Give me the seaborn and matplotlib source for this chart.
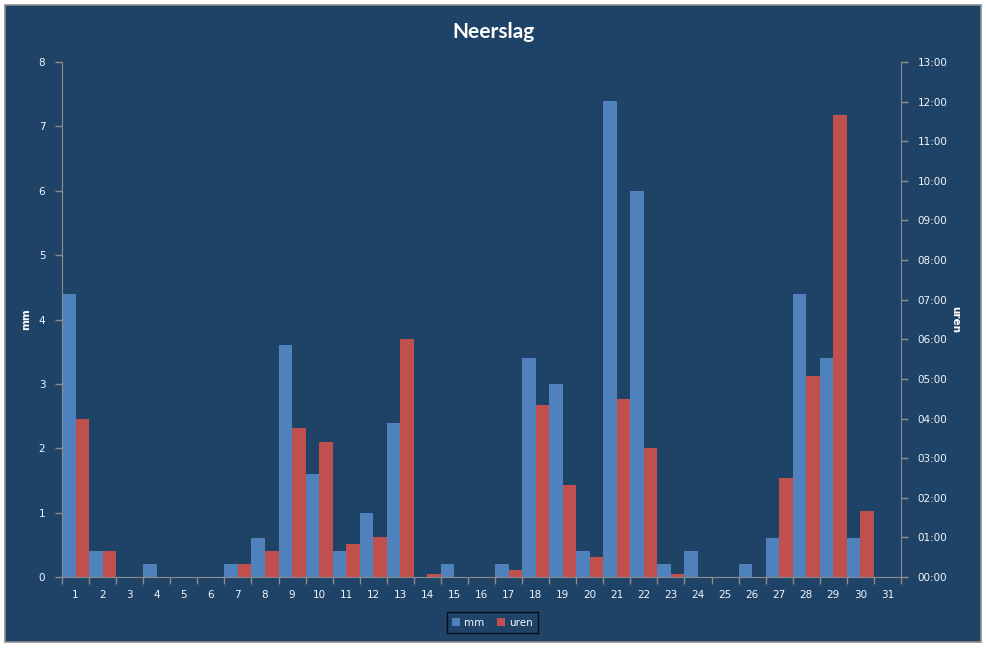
import pandas as pd
import numpy as np
import matplotlib
matplotlib.use("Agg")
import matplotlib.pyplot as plt
from matplotlib.patches import Rectangle
from matplotlib.ticker import FuncFormatter
import seaborn as sns

# neerslag per dag
dagen = list(range(1, 32))
mm = [4.4, 0.4, 0, 0.2, 0, 0, 0.2, 0.6, 3.6, 1.6, 0.4, 1.0, 2.4, 0, 0.2, 0,
      0.2, 3.4, 3.0, 0.4, 7.4, 6.0, 0.2, 0.4, 0, 0.2, 0.6, 4.4, 3.4, 0.6, 0]
uren = ["4:00", "0:40", "0:00", "0:00", "0:00", "0:00", "0:20", "0:40", "3:45", "3:25",
        "0:50", "1:00", "6:00", "0:05", "0:00", "0:00", "0:10", "4:20", "2:20", "0:30",
        "4:30", "3:15", "0:05", "0:00", "0:00", "0:00", "2:30", "5:05", "11:40", "1:40",
        "0:00"]
uren_h = [int(u.split(":")[0]) + int(u.split(":")[1]) / 60 for u in uren]

bg = "#1F4367"
kleuren = {"mm": "#4F81BD", "uren": "#C0504D"}
grijs = "#8C8C8C"
tekst = "#F2F6FB"

df = pd.concat([
    pd.DataFrame({"dag": dagen, "reeks": "mm", "mm": mm, "uren": 0.0}),
    pd.DataFrame({"dag": dagen, "reeks": "uren", "mm": 0.0, "uren": uren_h}),
])

plt.rcParams["font.family"] = ["DejaVu Sans"]
fig = plt.figure(figsize=(9.87, 6.48), dpi=100, facecolor="white")
fig.add_artist(Rectangle((5 / 987, 6 / 648), 976 / 987, 637 / 648, transform=fig.transFigure,
                         facecolor=bg, edgecolor=grijs, lw=1.2, zorder=-1))

ax = fig.add_axes([62 / 987, 1 - 577 / 648, 839 / 987, 515 / 648])
ax.set_facecolor("none")
ax2 = ax.twinx()

sns.barplot(data=df, x="dag", y="mm", hue="reeks", hue_order=["mm", "uren"], palette=kleuren,
            saturation=1, width=1.0, gap=0, errorbar=None, linewidth=0, ax=ax)
sns.barplot(data=df, x="dag", y="uren", hue="reeks", hue_order=["mm", "uren"], palette=kleuren,
            saturation=1, width=1.0, gap=0, errorbar=None, linewidth=0, ax=ax2)

handles, labels = ax.get_legend_handles_labels()
ax.get_legend().remove()
ax2.get_legend().remove()

ax.set_xlim(-0.5, 30.5)
ax.set_ylim(0, 8)
ax.set_yticks(range(0, 9))
ax2.set_ylim(0, 13)
ax2.set_yticks(range(0, 14))
ax2.yaxis.set_major_formatter(FuncFormatter(lambda v, p: f"{int(v):02d}:00"))

ax.set_xticks(np.arange(-0.5, 31, 1), minor=True)
ax.tick_params(axis="x", which="major", length=0, pad=9, colors=tekst, labelsize=7.5)
ax.tick_params(axis="x", which="minor", length=5, width=1, color=grijs)
ax.tick_params(axis="y", length=5, width=1, color=grijs, labelcolor=tekst, labelsize=7.5, pad=7)
ax2.tick_params(axis="y", length=5, width=1, color=grijs, labelcolor=tekst, labelsize=7.5, pad=7)

for a in (ax, ax2):
    for s in a.spines.values():
        s.set_visible(False)
    a.set_xlabel("")
ax.spines["left"].set_visible(True)
ax.spines["left"].set_color(grijs)
ax.spines["bottom"].set_visible(True)
ax.spines["bottom"].set_color(grijs)
ax2.spines["right"].set_visible(True)
ax2.spines["right"].set_color(grijs)

ax.set_ylabel("mm", color="white", fontsize=7.5, fontweight="bold")
ax.yaxis.set_label_coords((31 - 62) / 839, 0.5)
ax2.set_ylabel("uren", color="white", fontsize=7.5, fontweight="bold", rotation=270,
               va="center")
ax2.yaxis.set_label_coords((955 - 62) / 839, 0.5)

fig.text(0.5, 1 - 32 / 648, "Neerslag", ha="center", va="center", color="white",
         fontsize=15, fontweight="bold", family=["Lato", "DejaVu Sans"])

leg = fig.legend(handles, labels, loc="center", bbox_to_anchor=(492.5 / 987, 1 - 622.5 / 648),
                 ncol=2, frameon=True, fancybox=False, fontsize=7.5, handlelength=0.8,
                 handleheight=0.8, handletextpad=0.4, columnspacing=1.2, borderpad=0.5)
leg.get_frame().set_facecolor(bg)
leg.get_frame().set_edgecolor("black")
leg.get_frame().set_linewidth(1)
for t in leg.get_texts():
    t.set_color(tekst)

fig.savefig("out.png", dpi=100, facecolor=fig.get_facecolor())
